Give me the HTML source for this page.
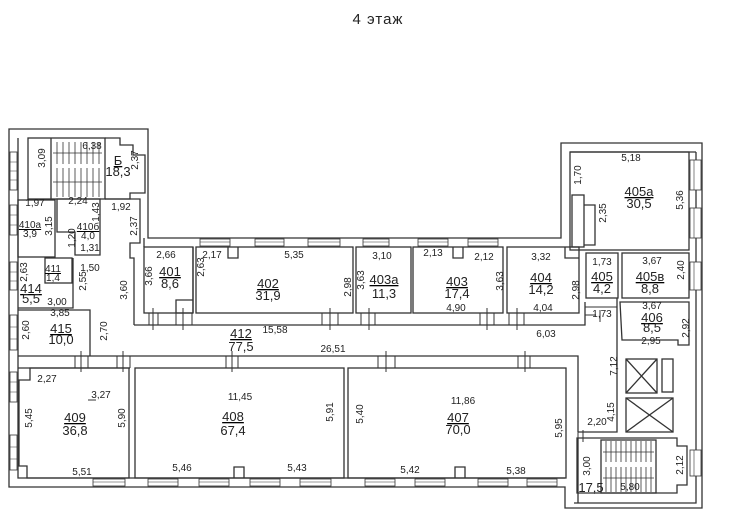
<!DOCTYPE html>
<html><head><meta charset="utf-8"><style>
html,body{margin:0;padding:0;background:#fff;}
svg{display:block;}
text{font-family:"Liberation Sans",sans-serif;fill:#222;}
.d{font-size:10px;}
.r{font-size:13px;}
</style></head><body>
<svg width="729" height="528" viewBox="0 0 729 528" xmlns="http://www.w3.org/2000/svg">
<rect width="729" height="528" fill="#fff"/>
<text x="378" y="24" font-size="15" text-anchor="middle" letter-spacing="1">4  этаж</text>
<g fill="none" stroke="#333" stroke-width="1.3">
<path d="M9,129 H148 V238 H561 V143 H702 V508 H565 V487 H9 Z"/>
<path d="M18,138 V478 H565"/>
<path d="M696,152 V503 H574"/>
<path d="M570,152 H696"/>
<rect x="28" y="138" width="77" height="61"/>
<path d="M51,138 V199 M105,138 H120 V145 H133 V155 H145 V193 H130 V199 H105"/>
<rect x="18" y="200" width="37" height="57"/>
<path d="M57,199 H100 V255 H75 V232 H57 Z"/>
<path d="M105,199 H140 V243 H130 V258 H134 V325"/>
<path d="M144,238 V247"/>
<rect x="45" y="258" width="27" height="25"/>
<path d="M18,308 H73 V258 M18,310 H90 V356"/>
<rect x="144" y="247" width="49" height="66"/>
<path d="M193,247 V313 M193,313 H176 V300 H193"/>
<rect x="196" y="247" width="157" height="66"/>
<rect x="356" y="247" width="55" height="66"/>
<rect x="413" y="247" width="90" height="66"/>
<rect x="507" y="247" width="72" height="66"/>
<path d="M228,247 V258 H238 V247 M453,247 V258 H463 V247 M565,247 V258 H579"/>
<path d="M134,325 H585 V302 M18,356 H578 V432 M617,298 V432 H578 M578,438 V503"/>
<path d="M18,368 H130"/>
<rect x="570" y="152" width="119" height="98"/>
<rect x="572" y="195" width="12" height="52"/>
<path d="M584,205 H595 V245 H584"/>
<rect x="586" y="253" width="32" height="45"/>
<rect x="622" y="253" width="67" height="45"/>
<path d="M620,302 H689 V345 H678 V340 H622 Z"/>
<path d="M19,380 V466 H27 V478 H129 V368 H30 V380 Z"/>
<rect x="135" y="368" width="209" height="110"/>
<rect x="348" y="368" width="218" height="110"/>
<path d="M234,478 V467 H244 V478 M455,478 V467 H465 V478"/>
<rect x="626" y="359" width="31" height="34"/>
<path d="M626,359 L657,393 M657,359 L626,393"/>
<rect x="626" y="398" width="47" height="34"/>
<path d="M626,398 L673,432 M673,398 L626,432"/>
<rect x="662" y="359" width="11" height="33"/>
<path d="M577,438 H677 V446 H687 V485 H677 V493 H577 Z"/>
<rect x="601" y="440" width="55" height="53"/>
</g>
<!-- door ticks -->
<g stroke="#333" stroke-width="1">
<path d="M149,313 V325 M158,313 V325 M153,308 V330 M176,313 V325 M192,313 V325 M183,308 V330 M322,313 V325 M338,313 V325 M330,308 V330 M361,313 V325 M375,313 V325 M369,308 V330 M480,313 V325 M494,313 V325 M487,308 V330 M509,313 V325 M524,313 V325 M517,308 V330"/>
<path d="M75,356 V368 M88,356 V368 M81,351 V372 M117,356 V368 M130,356 V368 M123,351 V372 M226,356 V368 M238,356 V368 M232,351 V372 M378,356 V368 M395,356 V368 M386,351 V372 M518,356 V368 M530,356 V368 M525,351 V372"/>
<path d="M585,307 H617 M585,315 H596 M600,310 V322"/>
<path d="M578,432 V438 M583,430 V442 M88,400 H96"/>
</g>
<g stroke="#333" stroke-width="0.8">
<path d="M57,142 V164 M63,142 V164 M69,142 V164 M75,142 V164 M81,142 V164 M87,142 V164 M93,142 V164 M99,142 V164 M57,168 V197 M63,168 V197 M69,168 V197 M75,168 V197 M81,168 V197 M87,168 V197 M93,168 V197 M99,168 V197 M53,153 H102 M53,182 H102"/>
<path d="M606,441 V462 M611,441 V462 M616,441 V462 M621,441 V462 M626,441 V462 M631,441 V462 M636,441 V462 M641,441 V462 M646,441 V462 M651,441 V462 M606,467 V492 M611,467 V492 M616,467 V492 M621,467 V492 M626,467 V492 M631,467 V492 M636,467 V492 M641,467 V492 M646,467 V492 M651,467 V492 M603,452 H654 M603,478 H654"/>
</g>
<g fill="#fff" stroke="#333" stroke-width="0.8">
<rect x="10" y="152" width="7" height="38"/><rect x="10" y="205" width="7" height="30"/><rect x="10" y="262" width="7" height="28"/><rect x="10" y="315" width="7" height="35"/><rect x="10" y="372" width="7" height="30"/><rect x="10" y="435" width="7" height="35"/>
<rect x="93" y="479" width="32" height="7"/><rect x="148" y="479" width="30" height="7"/><rect x="199" y="479" width="30" height="7"/><rect x="250" y="479" width="30" height="7"/><rect x="300" y="479" width="31" height="7"/><rect x="365" y="479" width="30" height="7"/><rect x="415" y="479" width="30" height="7"/><rect x="478" y="479" width="30" height="7"/><rect x="527" y="479" width="30" height="7"/>
<rect x="200" y="239" width="30" height="7"/><rect x="255" y="239" width="29" height="7"/><rect x="308" y="239" width="32" height="7"/><rect x="363" y="239" width="26" height="7"/><rect x="418" y="239" width="30" height="7"/><rect x="468" y="239" width="30" height="7"/>
<rect x="690" y="160" width="11" height="30"/><rect x="690" y="208" width="11" height="30"/><rect x="690" y="262" width="11" height="28"/><rect x="690" y="450" width="11" height="26"/>
</g>
<g stroke="#333" stroke-width="0.6">
<path d="M10,162 H17 M10,171 H17 M10,180 H17 M10,215 H17 M10,225 H17 M10,272 H17 M10,281 H17 M10,327 H17 M10,339 H17 M10,382 H17 M10,392 H17 M10,447 H17 M10,459 H17"/>
<path d="M93,482 H125 M148,482 H178 M199,482 H229 M250,482 H280 M300,482 H331 M365,482 H395 M415,482 H445 M478,482 H508 M527,482 H557"/>
<path d="M200,242 H230 M255,242 H284 M308,242 H340 M363,242 H389 M418,242 H448 M468,242 H498"/>
<path d="M694,160 V190 M694,208 V238 M694,262 V290 M694,450 V476"/>
</g>
<g class="d" text-anchor="middle">
<text x="92" y="149">6,38</text>
<text x="35" y="206">1,97</text><text x="78" y="204">2,24</text><text x="121" y="210">1,92</text>
<text x="90" y="251">1,31</text><text x="90" y="271">1,50</text>
<text x="57" y="305">3,00</text><text x="60" y="316">3,85</text>
<text x="166" y="258">2,66</text><text x="212" y="258">2,17</text><text x="294" y="258">5,35</text>
<text x="382" y="259">3,10</text><text x="433" y="256">2,13</text><text x="484" y="260">2,12</text><text x="541" y="260">3,32</text>
<text x="456" y="311">4,90</text><text x="543" y="311">4,04</text><text x="546" y="337">6,03</text>
<text x="275" y="333">15,58</text><text x="333" y="352">26,51</text>
<text x="631" y="161">5,18</text><text x="602" y="265">1,73</text><text x="652" y="264">3,67</text>
<text x="602" y="317">1,73</text><text x="652" y="309">3,67</text><text x="651" y="344">2,95</text>
<text x="47" y="382">2,27</text><text x="101" y="398">3,27</text><text x="240" y="400">11,45</text><text x="463" y="404">11,86</text>
<text x="597" y="425">2,20</text><text x="630" y="490">5,80</text>
<text x="82" y="475">5,51</text><text x="182" y="471">5,46</text><text x="297" y="471">5,43</text><text x="410" y="473">5,42</text><text x="516" y="474">5,38</text>
</g>
<g class="d" text-anchor="middle">
<text transform="translate(45,158) rotate(-90)">3,09</text>
<text transform="translate(138,160) rotate(-90)">2,37</text>
<text transform="translate(52,226) rotate(-90)">3,15</text>
<text transform="translate(99,212) rotate(-90)">1,43</text>
<text transform="translate(75,238) rotate(-90)">1,20</text>
<text transform="translate(137,226) rotate(-90)">2,37</text>
<text transform="translate(27,272) rotate(-90)">2,63</text>
<text transform="translate(86,281) rotate(-90)">2,55</text>
<text transform="translate(29,330) rotate(-90)">2,60</text>
<text transform="translate(107,331) rotate(-90)">2,70</text>
<text transform="translate(127,290) rotate(-90)">3,60</text>
<text transform="translate(152,276) rotate(-90)">3,66</text>
<text transform="translate(204,267) rotate(-90)">2,63</text>
<text transform="translate(351,287) rotate(-90)">2,98</text>
<text transform="translate(364,280) rotate(-90)">3,63</text>
<text transform="translate(503,281) rotate(-90)">3,63</text>
<text transform="translate(579,290) rotate(-90)">2,98</text>
<text transform="translate(581,175) rotate(-90)">1,70</text>
<text transform="translate(606,213) rotate(-90)">2,35</text>
<text transform="translate(683,200) rotate(-90)">5,36</text>
<text transform="translate(684,270) rotate(-90)">2,40</text>
<text transform="translate(689,328) rotate(-90)">2,92</text>
<text transform="translate(617,366) rotate(-90)">7,12</text>
<text transform="translate(614,412) rotate(-90)">4,15</text>
<text transform="translate(590,466) rotate(-90)">3,00</text>
<text transform="translate(683,465) rotate(-90)">2,12</text>
<text transform="translate(32,418) rotate(-90)">5,45</text>
<text transform="translate(125,418) rotate(-90)">5,90</text>
<text transform="translate(333,412) rotate(-90)">5,91</text>
<text transform="translate(363,414) rotate(-90)">5,40</text>
<text transform="translate(562,428) rotate(-90)">5,95</text>
</g>
<g class="r" text-anchor="middle" text-decoration="underline">
<text x="118" y="165">Б</text>
<text x="30" y="228" font-size="10">410а</text><text x="88" y="230" font-size="10">410б</text>
<text x="53" y="272" font-size="10">411</text>
<text x="31" y="293">414</text><text x="61" y="333">415</text>
<text x="170" y="276">401</text><text x="268" y="288">402</text><text x="384" y="284">403а</text>
<text x="457" y="286">403</text><text x="541" y="282">404</text><text x="639" y="196">405а</text>
<text x="602" y="281">405</text><text x="650" y="281">405в</text><text x="652" y="322">406</text>
<text x="241" y="338">412</text>
<text x="75" y="422">409</text><text x="233" y="421">408</text><text x="458" y="422">407</text>
</g>
<g class="r" text-anchor="middle">
<text x="118" y="176">18,3</text>
<text x="30" y="237" font-size="10">3,9</text><text x="88" y="239" font-size="10">4,0</text>
<text x="53" y="281" font-size="10">1,4</text>
<text x="31" y="303">5,5</text><text x="61" y="344">10,0</text>
<text x="170" y="288">8,6</text><text x="268" y="300">31,9</text><text x="384" y="298">11,3</text>
<text x="457" y="298">17,4</text><text x="541" y="294">14,2</text><text x="639" y="208">30,5</text>
<text x="602" y="293">4,2</text><text x="650" y="293">8,8</text><text x="652" y="332">8,5</text>
<text x="241" y="351">77,5</text>
<text x="75" y="435">36,8</text><text x="233" y="435">67,4</text><text x="458" y="434">70,0</text>
<text x="591" y="492">17,5</text>
</g>
</svg>
</body></html>
